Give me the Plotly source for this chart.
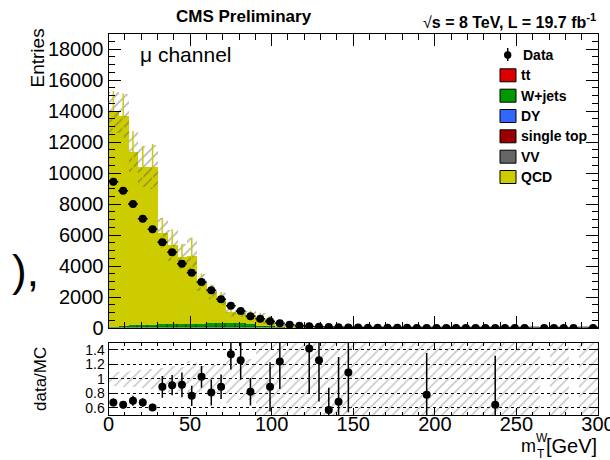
import plotly.graph_objects as go

W, H = 610, 460
FONT = "Liberation Sans, Arial, Helvetica, sans-serif"

# ---- binning: 50 bins of 6 GeV in m_T^W ----
bin_edges = list(range(0, 301, 6))
bin_centers = [(a + b) / 2 for a, b in zip(bin_edges[:-1], bin_edges[1:])]

# ---- observed data (entries per bin) ----
data_counts = [9440, 8860, 8000, 7050, 6370, 5530, 4880, 4150, 3570, 2970,
               2430, 1850, 1440, 1100, 755, 600, 432, 303, 213, 148,
               110, 82, 60, 48, 38, 30, 24, 19, 15, 12,
               10, 8, 7, 6, 5, 4, 4, 3, 3, 2,
               2, 2, 1, 0, 1, 1, 1, 1, 0, 1]
data_err = [97, 94, 89, 84, 80, 74, 70, 64, 60, 54,
            49, 43, 38, 33, 27, 24, 21, 17, 15, 12,
            10, 9, 8, 7, 6, 5.5, 4.9, 4.4, 3.9, 3.5,
            3.2, 2.8, 2.6, 2.4, 2.2, 2, 2, 1.7, 1.7, 1.4,
            1.4, 1.4, 1, 0, 1, 1, 1, 1, 0, 1]

# ---- simulated backgrounds (stacked, bottom to top) ----
wjets = [110, 150, 180, 200, 230, 250, 270, 290, 300, 310,
         320, 330, 330, 320, 300, 150, 140, 120, 60, 40,
         30, 25, 20, 16, 13, 11, 9, 8, 7, 6,
         5, 4, 4, 3, 3, 2, 2, 2, 1, 1,
         1, 1, 1, 1, 0, 1, 1, 0, 1, 1]
ttbar = [4, 5, 5, 6, 6, 6, 6, 6, 6, 5,
         5, 5, 4, 4, 4, 3, 3, 3, 2, 2,
         2, 1.5, 1.5, 1, 1, 1, 1, 1, 0.5, 0.5,
         0.5, 0.5, 0.3, 0.3, 0.3, 0.3, 0.3, 0.3, 0.3, 0.3,
         0.2, 0.2, 0.2, 0.2, 0, 0.2, 0.2, 0, 0.2, 0.2]
dy = [8, 9, 9, 8, 8, 7, 7, 6, 6, 5,
      5, 4, 4, 3, 3, 2, 2, 2, 1.5, 1,
      1, 1, 0.8, 0.8, 0.6, 0.5, 0.5, 0.4, 0.4, 0.3,
      0.3, 0.3, 0.2, 0.2, 0.2, 0.2, 0.2, 0.1, 0.1, 0.1,
      0.1, 0.1, 0.1, 0.1, 0, 0.1, 0.1, 0, 0.1, 0.1]
single_top = [2, 2, 2, 2, 2, 2, 2, 2, 2, 1.5,
              1.5, 1.5, 1.2, 1, 1, 1, 0.8, 0.7, 0.6, 0.5,
              0.4, 0.4, 0.3, 0.3, 0.3, 0.2, 0.2, 0.2, 0.2, 0.2,
              0.1, 0.1, 0.1, 0.1, 0.1, 0.1, 0.1, 0.1, 0.1, 0.1,
              0.05, 0.05, 0.05, 0.05, 0, 0.05, 0.05, 0, 0.05, 0.05]
vv = [1, 1, 1, 1, 1, 1, 1, 1, 1, 1,
      1, 1, 1, 0.8, 0.8, 0.6, 0.6, 0.5, 0.5, 0.4,
      0.3, 0.3, 0.3, 0.2, 0.2, 0.2, 0.2, 0.2, 0.1, 0.1,
      0.1, 0.1, 0.1, 0.1, 0.1, 0.1, 0.1, 0.1, 0.1, 0.1,
      0.05, 0.05, 0.05, 0.05, 0, 0.05, 0.05, 0, 0.05, 0.05]
qcd = [13820, 13530, 11220, 10230, 10200, 5880, 5080, 4340, 4340, 2660,
       2030, 1580, 730, 700, 570, 475, 340, 110, 43, 26,
       36, 31, 78, 47, 16, 0, 12, 0, 0, 9,
       0, 0, 3, 0, 0, 2, 0, 0, 0, 1.5,
       0, 0, 0, 0, 0, 0, 0, 0, 0, 0]

# total MC uncertainty (absolute)
mc_err = [1340, 1430, 1290, 1300, 1420, 970, 1000, 780, 1180, 540,
          450, 400, 350, 300, 250, 350, 300, 180, 120, 80,
          70, 60, 95, 65, 30, 14, 20, 10, 8, 12,
          5, 4, 8, 4, 3, 4, 3, 3, 2, 4,
          1.5, 1.5, 1.5, 1.5, 0, 1, 1, 0, 1, 1]

# ---- data / MC ratio ----
ratio_vals = [0.673, 0.641, 0.697, 0.673, 0.604, 0.890, 0.913, 0.917, 0.766, 1.028,
              0.811, 0.890, 1.340, 1.258, 0.821, None, 0.890, 1.240, None, None,
              1.420, 1.258, 0.568, 0.683, 1.087, None, None, None, None, None,
              None, None, 0.779, None, None, None, None, None, None, 0.641,
              None, None, None, None, None, None, None, None, None, None]
ratio_err = [0.055, 0.05, 0.07, 0.06, 0.05, 0.15, 0.14, 0.17, 0.14, 0.15,
             0.18, 0.17, 0.21, 0.27, 0.19, 0, 0.34, 0.38, 0, 0,
             0.63, 0.57, 0.31, 0.62, 0.55, 0, 0, 0, 0, 0,
             0, 0, 0.58, 0, 0, 0, 0, 0, 0, 0.68,
             0, 0, 0, 0, 0, 0, 0, 0, 0, 0]

x_tick_vals = [0, 50, 100, 150, 200, 250, 300]
ratio_range = [0.5, 1.5]

components = [
    ("VV", vv, "#666666"),
    ("single top", single_top, "#990000"),
    ("DY", dy, "#3366FF"),
    ("tt", ttbar, "#DD0000"),
    ("W+jets", wjets, "#009900"),
    ("QCD", qcd, "#CCCC00"),
]
legend_entries = [("tt", "#DD0000"), ("W+jets", "#009900"), ("DY", "#3366FF"),
                  ("single top", "#990000"), ("VV", "#666666"), ("QCD", "#CCCC00")]


def px(x):
    return x / W


def py(y):
    return 1 - y / H


fig = go.Figure()

# stacked simulation
base = [0.0] * len(bin_centers)
for name, vals, col in components:
    fig.add_trace(go.Bar(
        x=bin_centers, y=vals, base=list(base), width=6, name=name,
        marker=dict(color=col, line=dict(width=0.6 if name == "W+jets" else 0,
                                         color="#002200")),
        xaxis="x", yaxis="y", showlegend=False))
    base = [b + v for b, v in zip(base, vals)]
mc_total = base

# QCD statistical error lines
fig.add_trace(go.Scatter(
    x=bin_centers, y=mc_total, mode="markers",
    marker=dict(size=1, color="#CCCC00"),
    error_y=dict(type="data", array=mc_err, color="#CCCC00", thickness=1.5, width=0),
    xaxis="x", yaxis="y", showlegend=False))

# hatched MC uncertainty band
fig.add_trace(go.Bar(
    x=bin_centers, y=[2 * e for e in mc_err],
    base=[t - e for t, e in zip(mc_total, mc_err)], width=6,
    marker=dict(color="rgba(0,0,0,0)", line=dict(width=0),
                pattern=dict(shape="/", fgcolor="#505050",
                             bgcolor="rgba(0,0,0,0)", size=7, solidity=0.2,
                             fillmode="overlay")),
    xaxis="x", yaxis="y", showlegend=False))

# data points
dx = [c for c, n in zip(bin_centers, data_counts) if n > 0]
dy_ = [n for n in data_counts if n > 0]
de = [e for e, n in zip(data_err, data_counts) if n > 0]
fig.add_trace(go.Scatter(
    x=dx, y=dy_, mode="markers", marker=dict(size=8, color="black"),
    error_y=dict(type="data", array=de, color="black", thickness=1.5, width=0),
    error_x=dict(type="constant", value=3, color="black", thickness=1.5, width=0),
    xaxis="x", yaxis="y", showlegend=False))

# ratio band: relative MC uncertainty, limited to the visible window
rb_x, rb_base, rb_h = [], [], []
for c, t, e in zip(bin_centers, mc_total, mc_err):
    if t > 0:
        rel = e / t
        lo = max(1 - rel, ratio_range[0] - 0.02)
        hi = min(1 + rel, ratio_range[1] + 0.02)
        rb_x.append(c)
        rb_base.append(lo)
        rb_h.append(hi - lo)
fig.add_trace(go.Bar(
    x=rb_x, y=rb_h, base=rb_base, width=6,
    marker=dict(color="rgba(255,255,255,0)", line=dict(width=0),
                pattern=dict(shape="/", fgcolor="#7a7a7a",
                             bgcolor="rgba(255,255,255,0)", size=7, solidity=0.18,
                             fillmode="overlay")),
    xaxis="x2", yaxis="y2", showlegend=False))

# ratio points
rx = [c for c, r in zip(bin_centers, ratio_vals) if r is not None]
ry = [r for r in ratio_vals if r is not None]
re_ = [e for e, r in zip(ratio_err, ratio_vals) if r is not None]
fig.add_trace(go.Scatter(
    x=rx, y=ry, mode="markers", marker=dict(size=8, color="black"),
    error_y=dict(type="data", array=re_, color="black", thickness=1.5, width=0),
    xaxis="x2", yaxis="y2", showlegend=False))

xdom = [px(108.5), px(598)]
common_axis = dict(showline=True, linecolor="black", linewidth=1, mirror="ticks",
                   ticks="inside", tickcolor="black", zeroline=False,
                   automargin=False)

fig.update_layout(
    template="none",
    width=W, height=H, margin=dict(l=0, r=0, t=0, b=0, pad=0), autosize=False,
    paper_bgcolor="white", plot_bgcolor="white",
    barmode="overlay", bargap=0, showlegend=False,
    font=dict(family=FONT, color="black"),
    xaxis=dict(domain=xdom, range=[0, 300], anchor="y", showticklabels=False,
               tickvals=x_tick_vals, ticklen=12, showgrid=False,
               minor=dict(ticks="inside", ticklen=6, dtick=10, tick0=0,
                          tickcolor="black", showgrid=False),
               **common_axis),
    yaxis=dict(domain=[py(328), py(33.5)], range=[0, 19000], anchor="x",
               tick0=0, dtick=2000, tickformat="d", ticklen=12, showgrid=False,
               tickfont=dict(family=FONT, size=20, color="black"),
               minor=dict(ticks="inside", ticklen=6, dtick=500, tick0=0,
                          tickcolor="black", showgrid=False),
               **common_axis),
    xaxis2=dict(domain=xdom, range=[0, 300], anchor="y2",
                tickvals=x_tick_vals, ticklen=7, showgrid=False,
                tickfont=dict(family=FONT, size=20, color="black"),
                ticklabelstandoff=-9, ticklabeloverflow="allow",
                minor=dict(ticks="inside", ticklen=3.5, dtick=10, tick0=0,
                           tickcolor="black", showgrid=False),
                **common_axis),
    yaxis2=dict(domain=[py(415), py(342.7)], range=ratio_range, anchor="x2",
                tickvals=[0.6, 0.8, 1.0, 1.2, 1.4], ticklen=7,
                showgrid=True, gridcolor="black", griddash="dot", gridwidth=1,
                tickfont=dict(family=FONT, size=14, color="black"),
                **common_axis),
)

annotations = [
    dict(x=px(244), y=py(16.5), text="<b>CMS Preliminary</b>", font=dict(size=17),
         xanchor="center", yanchor="middle"),
    dict(x=px(598), y=py(20.5), text="√<b>s = 8 TeV, L = 19.7 fb<sup>-1</sup></b>",
         font=dict(size=16), xanchor="right", yanchor="middle"),
    dict(x=px(138), y=py(55), text="μ channel", font=dict(size=21),
         xanchor="left", yanchor="middle"),
    dict(x=px(37), y=py(27), text="Entries", font=dict(size=19), textangle=-90,
         xanchor="center", yanchor="top"),
    dict(x=px(40), y=py(379), text="data/MC", font=dict(size=17), textangle=-90,
         xanchor="center", yanchor="middle"),
    dict(x=px(10), y=py(270), text="),", font=dict(size=44),
         xanchor="left", yanchor="middle"),
    # axis title m_T^W [GeV]
    dict(x=px(519), y=py(446), text="m", font=dict(size=18),
         xanchor="left", yanchor="middle"),
    dict(x=px(534), y=py(438), text="W", font=dict(size=12),
         xanchor="left", yanchor="middle"),
    dict(x=px(535), y=py(454), text="T", font=dict(size=12),
         xanchor="left", yanchor="middle"),
    dict(x=px(599), y=py(446), text="[GeV]", font=dict(size=20),
         xanchor="right", yanchor="middle"),
]

shapes = []
# legend
leg_rows = [55, 75.3, 95.7, 116, 136.3, 156.7, 177]
shapes.append(dict(type="line", xref="paper", yref="paper",
                   x0=px(507.7), x1=px(507.7), y0=py(48), y1=py(61),
                   line=dict(color="black", width=1.5)))
shapes.append(dict(type="circle", xref="paper", yref="paper",
                   x0=px(504), x1=px(511.4), y0=py(58.7), y1=py(51.3),
                   fillcolor="black", line=dict(color="black", width=0)))
annotations.append(dict(x=px(521), y=py(leg_rows[0]), text="<b>Data</b>",
                        font=dict(size=14), xanchor="left", yanchor="middle"))
for (name, col), yc in zip(legend_entries, leg_rows[1:]):
    shapes.append(dict(type="rect", xref="paper", yref="paper",
                       x0=px(500), x1=px(516), y0=py(yc + 6.5), y1=py(yc - 6.5),
                       fillcolor=col, line=dict(color="black", width=1)))
    annotations.append(dict(x=px(519), y=py(yc), text=f"<b>{name}</b>",
                            font=dict(size=14), xanchor="left", yanchor="middle"))

for a in annotations:
    a.update(xref="paper", yref="paper", showarrow=False)
    a["font"].update(family=FONT, color="black")

fig.update_layout(annotations=annotations, shapes=shapes)
fig.write_html("out.html")
